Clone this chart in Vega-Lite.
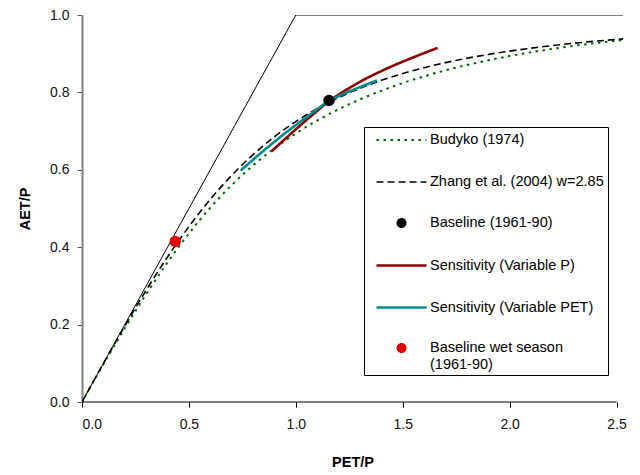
{
  "$schema": "https://vega.github.io/schema/vega-lite/v6.json",
  "autosize": "none",
  "width": 541,
  "height": 387,
  "padding": {"left": 82, "top": 15, "right": 17, "bottom": 73},
  "background": "white",
  "config": {
    "view": {"stroke": null},
    "font": "Liberation Sans"
  },
  "datasets": {
    "curves": [
      {"series": "Budyko (1974)", "x": 0, "y": 0},
      {"series": "Budyko (1974)", "x": 0.05, "y": 0.0494},
      {"series": "Budyko (1974)", "x": 0.1, "y": 0.0976},
      {"series": "Budyko (1974)", "x": 0.2, "y": 0.1904},
      {"series": "Budyko (1974)", "x": 0.3, "y": 0.2785},
      {"series": "Budyko (1974)", "x": 0.4, "y": 0.3607},
      {"series": "Budyko (1974)", "x": 0.5, "y": 0.4355},
      {"series": "Budyko (1974)", "x": 0.6, "y": 0.5021},
      {"series": "Budyko (1974)", "x": 0.7, "y": 0.5605},
      {"series": "Budyko (1974)", "x": 0.8, "y": 0.6113},
      {"series": "Budyko (1974)", "x": 0.9, "y": 0.6555},
      {"series": "Budyko (1974)", "x": 1.0, "y": 0.6938},
      {"series": "Budyko (1974)", "x": 1.1, "y": 0.7273},
      {"series": "Budyko (1974)", "x": 1.2, "y": 0.7564},
      {"series": "Budyko (1974)", "x": 1.3, "y": 0.7819},
      {"series": "Budyko (1974)", "x": 1.4, "y": 0.8043},
      {"series": "Budyko (1974)", "x": 1.5, "y": 0.8241},
      {"series": "Budyko (1974)", "x": 1.6, "y": 0.8416},
      {"series": "Budyko (1974)", "x": 1.7, "y": 0.857},
      {"series": "Budyko (1974)", "x": 1.8, "y": 0.8708},
      {"series": "Budyko (1974)", "x": 1.9, "y": 0.883},
      {"series": "Budyko (1974)", "x": 2.0, "y": 0.894},
      {"series": "Budyko (1974)", "x": 2.2, "y": 0.9125},
      {"series": "Budyko (1974)", "x": 2.4, "y": 0.9274},
      {"series": "Budyko (1974)", "x": 2.53, "y": 0.9355},
      {"series": "Zhang et al. (2004) w=2.85", "x": 0, "y": 0},
      {"series": "Zhang et al. (2004) w=2.85", "x": 0.05, "y": 0.0499},
      {"series": "Zhang et al. (2004) w=2.85", "x": 0.1, "y": 0.0995},
      {"series": "Zhang et al. (2004) w=2.85", "x": 0.2, "y": 0.1964},
      {"series": "Zhang et al. (2004) w=2.85", "x": 0.3, "y": 0.2888},
      {"series": "Zhang et al. (2004) w=2.85", "x": 0.4, "y": 0.3748},
      {"series": "Zhang et al. (2004) w=2.85", "x": 0.5, "y": 0.4534},
      {"series": "Zhang et al. (2004) w=2.85", "x": 0.6, "y": 0.5237},
      {"series": "Zhang et al. (2004) w=2.85", "x": 0.7, "y": 0.5855},
      {"series": "Zhang et al. (2004) w=2.85", "x": 0.8, "y": 0.6392},
      {"series": "Zhang et al. (2004) w=2.85", "x": 0.9, "y": 0.6853},
      {"series": "Zhang et al. (2004) w=2.85", "x": 1.0, "y": 0.7246},
      {"series": "Zhang et al. (2004) w=2.85", "x": 1.1, "y": 0.7581},
      {"series": "Zhang et al. (2004) w=2.85", "x": 1.2, "y": 0.7865},
      {"series": "Zhang et al. (2004) w=2.85", "x": 1.3, "y": 0.8106},
      {"series": "Zhang et al. (2004) w=2.85", "x": 1.4, "y": 0.8312},
      {"series": "Zhang et al. (2004) w=2.85", "x": 1.5, "y": 0.8488},
      {"series": "Zhang et al. (2004) w=2.85", "x": 1.6, "y": 0.8639},
      {"series": "Zhang et al. (2004) w=2.85", "x": 1.7, "y": 0.8769},
      {"series": "Zhang et al. (2004) w=2.85", "x": 1.8, "y": 0.8882},
      {"series": "Zhang et al. (2004) w=2.85", "x": 1.9, "y": 0.8981},
      {"series": "Zhang et al. (2004) w=2.85", "x": 2.0, "y": 0.9067},
      {"series": "Zhang et al. (2004) w=2.85", "x": 2.2, "y": 0.9209},
      {"series": "Zhang et al. (2004) w=2.85", "x": 2.4, "y": 0.9323},
      {"series": "Zhang et al. (2004) w=2.85", "x": 2.53, "y": 0.9384},
      {"series": "Sensitivity (Variable P)", "x": 0.887, "y": 0.648},
      {"series": "Sensitivity (Variable P)", "x": 0.999, "y": 0.704},
      {"series": "Sensitivity (Variable P)", "x": 1.08, "y": 0.743},
      {"series": "Sensitivity (Variable P)", "x": 1.155, "y": 0.777},
      {"series": "Sensitivity (Variable P)", "x": 1.208, "y": 0.797},
      {"series": "Sensitivity (Variable P)", "x": 1.302, "y": 0.828},
      {"series": "Sensitivity (Variable P)", "x": 1.427, "y": 0.862},
      {"series": "Sensitivity (Variable P)", "x": 1.551, "y": 0.891},
      {"series": "Sensitivity (Variable P)", "x": 1.663, "y": 0.915},
      {"series": "Sensitivity (Variable PET)", "x": 0.742, "y": 0.598},
      {"series": "Sensitivity (Variable PET)", "x": 0.84, "y": 0.645},
      {"series": "Sensitivity (Variable PET)", "x": 0.937, "y": 0.689},
      {"series": "Sensitivity (Variable PET)", "x": 1.05, "y": 0.736},
      {"series": "Sensitivity (Variable PET)", "x": 1.155, "y": 0.777},
      {"series": "Sensitivity (Variable PET)", "x": 1.21, "y": 0.793},
      {"series": "Sensitivity (Variable PET)", "x": 1.27, "y": 0.807},
      {"series": "Sensitivity (Variable PET)", "x": 1.38, "y": 0.831}
    ],
    "points": [
      {"series": "Baseline (1961-90)", "x": 1.155, "y": 0.779},
      {"series": "Baseline wet season (1961-90)", "x": 0.436, "y": 0.415}
    ],
    "limit": [
      {"x": 0, "y": 0},
      {"x": 1, "y": 1},
      {"x": 2.53, "y": 1}
    ],
    "axisline": [
      {"x": 0, "x2": 2.5, "y": 0}
    ]
  },
  "layer": [
    {
      "data": {"name": "limit"},
      "mark": {"type": "line", "color": "black", "strokeWidth": 1, "clip": true},
      "encoding": {
        "x": {"field": "x", "type": "quantitative", "scale": {"domain": [0, 2.53], "nice": false, "zero": false},
          "axis": {"values": [0, 0.5, 1, 1.5, 2, 2.5], "format": ".1f", "domain": false, "grid": false,
            "tickColor": "black", "tickSize": 5, "labelFontSize": 14, "labelColor": "#111", "labelPadding": 10, "labelFont": "Liberation Sans",
            "title": "PET/P", "titleFontSize": 14.5, "titleFontWeight": "bold", "titleFont": "Liberation Sans", "titleColor": "black", "titlePadding": 24}},
        "y": {"field": "y", "type": "quantitative", "scale": {"domain": [0, 1], "nice": false},
          "axis": {"values": [0, 0.2, 0.4, 0.6, 0.8, 1.0], "format": ".1f", "grid": false,
            "domainColor": "#808080", "domainWidth": 2, "tickColor": "#555", "tickSize": 5, "labelFontSize": 14, "labelColor": "#111", "labelPadding": 8, "labelFont": "Liberation Sans",
            "title": "AET/P", "titleFontSize": 14.5, "titleFontWeight": "bold", "titleFont": "Liberation Sans", "titleColor": "black", "titlePadding": 17}}
      }
    },
    {
      "data": {"name": "axisline"},
      "mark": {"type": "rule", "color": "black", "strokeWidth": 1.2},
      "encoding": {
        "x": {"field": "x", "type": "quantitative"},
        "x2": {"field": "x2"},
        "y": {"field": "y", "type": "quantitative"}
      }
    },
    {
      "data": {"name": "curves"},
      "mark": {"type": "line", "interpolate": "monotone", "clip": true},
      "encoding": {
        "x": {"field": "x", "type": "quantitative"},
        "y": {"field": "y", "type": "quantitative"},
        "color": {"field": "series", "type": "nominal",
          "scale": {"domain": ["Budyko (1974)", "Zhang et al. (2004) w=2.85", "Baseline (1961-90)", "Sensitivity (Variable P)", "Sensitivity (Variable PET)", "Baseline wet season (1961-90)"],
                    "range": ["#006600", "#000000", "#000000", "#8B0000", "#008B8B", "#E00000"]},
          "legend": {
            "title": null, "orient": "none", "legendX": 282, "legendY": 112,
            "strokeColor": "black", "fillColor": "white", "padding": 4,
            "symbolSize": 256, "symbolOffset": 24, "labelOffset": 19, "rowPadding": 26,
            "labelFont": "Liberation Sans", "labelFontSize": 14.5, "labelColor": "black", "labelLimit": 300,
            "labelExpr": "datum.label == 'Baseline wet season (1961-90)' ? ['Baseline wet season', '(1961-90)'] : datum.label",
            "encode": {
              "symbols": {
                "update": {
                  "shape": {"signal": "indexof(['Baseline (1961-90)','Baseline wet season (1961-90)'], datum.value) >= 0 ? 'M 0.625 0 A 0.625 0.625 0 1 1 -0.625 0 A 0.625 0.625 0 1 1 0.625 0 Z' : 'M -3.125 0 L 3.125 0'"},
                  "size": {"value": 256},
                  "strokeDash": {"signal": "datum.value == 'Budyko (1974)' ? [2.5, 4.5] : datum.value == 'Zhang et al. (2004) w=2.85' ? [7, 4] : [1, 0]"},
                  "strokeWidth": {"scale": "strokeWidth", "field": "value"},
                  "fill": {"signal": "indexof(['Baseline (1961-90)','Baseline wet season (1961-90)'], datum.value) >= 0 ? scale('color', datum.value) : 'transparent'"},
                  "stroke": {"signal": "scale('color', datum.value)"},
                  "opacity": {"value": 1},
                  "fillOpacity": {"value": 1},
                  "strokeOpacity": {"value": 1}
                }
              }
            }
          }
        },
        "strokeDash": {"field": "series", "type": "nominal",
          "scale": {"domain": ["Budyko (1974)", "Zhang et al. (2004) w=2.85", "Sensitivity (Variable P)", "Sensitivity (Variable PET)"],
                    "range": [[2.5, 4.5], [7, 4], [1, 0], [1, 0]]},
          "legend": null},
        "strokeWidth": {"field": "series", "type": "ordinal",
          "scale": {"type": "ordinal", "domain": ["Budyko (1974)", "Zhang et al. (2004) w=2.85", "Baseline (1961-90)", "Sensitivity (Variable P)", "Sensitivity (Variable PET)", "Baseline wet season (1961-90)"],
                    "range": [2, 1.6, 0, 2.6, 2.6, 0]},
          "legend": null}
      }
    },
    {
      "data": {"name": "points"},
      "mark": {"type": "circle", "size": 130, "opacity": 1},
      "encoding": {
        "x": {"field": "x", "type": "quantitative"},
        "y": {"field": "y", "type": "quantitative"},
        "color": {"field": "series", "type": "nominal"}
      }
    }
  ]
}
